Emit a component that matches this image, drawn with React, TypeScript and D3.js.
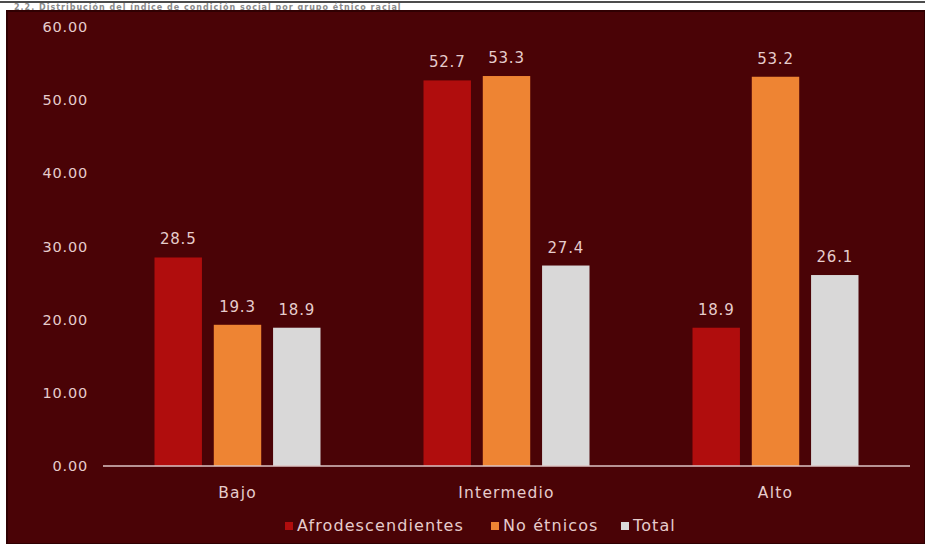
import React from "react";
import * as d3 from "d3";

const categories = ["Bajo", "Intermedio", "Alto"];
const series = ["Afrodescendientes", "No étnicos", "Total"];
const afro = [28.5, 52.7, 18.9];
const noEtnicos = [19.3, 53.3, 53.2];
const total = [18.9, 27.4, 26.1];
const yTicks = [0, 10, 20, 30, 40, 50, 60];
const colors = ["#b00d0d", "#ee8433", "#d9d8d8"];
const title = "2.2. Distribución del índice de condición social por grupo étnico racial";

const W = 925;
const H = 544;
const FONT = "'DejaVu Sans', sans-serif";
const TEXT = "#e6cccc";

export default function App() {
  const values = [afro, noEtnicos, total];
  const x = d3.scaleBand<string>().domain(categories).range([103, 910]).paddingInner(0).paddingOuter(0);
  const groupPad = 51.5;
  const xs = d3
    .scaleBand<string>()
    .domain(series)
    .range([groupPad, x.bandwidth() - groupPad])
    .paddingInner(0.2)
    .paddingOuter(0);
  const y = d3.scaleLinear().domain([0, 60]).range([466, 27]);

  const legendX = [285, 491, 621];

  return (
    <svg
      width={W}
      height={H}
      style={{ position: "absolute", left: 0, top: 0, display: "block" }}
    >
      <rect x={0} y={0} width={W} height={H} fill="#ffffff" />
      <line x1={0} x2={W} y1={2} y2={2} stroke="#111" strokeWidth={1.5} />
      <text
        x={14}
        y={9.5}
        fontFamily={FONT}
        fontSize={8}
        fontWeight="bold"
        fill="#8a8a8a"
        letterSpacing={1.0}
      >
        {title}
      </text>
      <rect x={7} y={11} width={W - 7} height={H - 11} fill="#4a0306" stroke="#300002" strokeWidth={2} />

      {yTicks.map((t) => (
        <text
          key={t}
          x={88}
          y={y(t)}
          dy="0.35em"
          textAnchor="end"
          fontFamily={FONT}
          fontSize={14.5}
          fill={TEXT}
          letterSpacing={0.8}
        >
          {t.toFixed(2)}
        </text>
      ))}

      {categories.map((c, ci) => (
        <g key={c} transform={`translate(${x(c)},0)`}>
          {series.map((s, si) => {
            const v = values[si][ci];
            const bx = xs(s)!;
            return (
              <g key={s}>
                <rect x={bx} y={y(v)} width={xs.bandwidth()} height={y(0) - y(v)} fill={colors[si]} />
                <text
                  x={bx + xs.bandwidth() / 2}
                  y={y(v) - 13}
                  textAnchor="middle"
                  fontFamily={FONT}
                  fontSize={15}
                  fill={TEXT}
                  letterSpacing={0.8}
                >
                  {v.toFixed(1)}
                </text>
              </g>
            );
          })}
          <text
            x={x.bandwidth() / 2}
            y={498}
            textAnchor="middle"
            fontFamily={FONT}
            fontSize={15.5}
            fill={TEXT}
            letterSpacing={1.2}
          >
            {c}
          </text>
        </g>
      ))}

      <line x1={103} x2={910} y1={y(0)} y2={y(0)} stroke="#dcc4c4" strokeWidth={1.5} />

      {series.map((s, si) => (
        <g key={s}>
          <rect x={legendX[si]} y={522} width={8} height={8} fill={colors[si]} />
          <text
            x={legendX[si] + 12}
            y={531}
            fontFamily={FONT}
            fontSize={16}
            fill={TEXT}
            letterSpacing={1.1}
          >
            {s}
          </text>
        </g>
      ))}
    </svg>
  );
}
